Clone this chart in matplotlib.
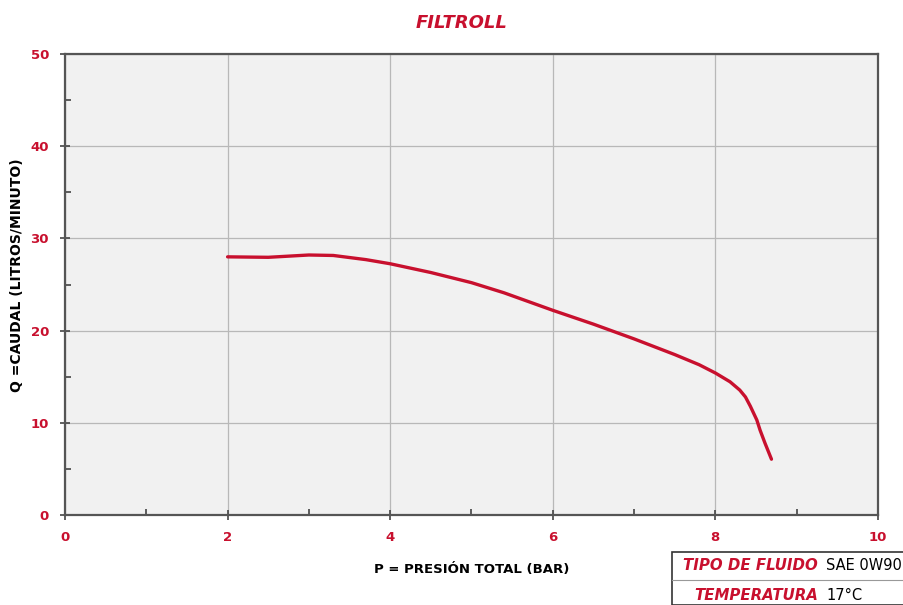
import matplotlib.pyplot as plt
from matplotlib.patches import Rectangle
from matplotlib.lines import Line2D

# curve
presion = [2.0, 2.5, 3.0, 3.3, 3.7, 4.0, 4.5, 5.0, 5.4, 6.0, 6.5, 7.0, 7.5, 7.8, 8.0, 8.18, 8.3, 8.37, 8.43, 8.51, 8.55, 8.61, 8.69]
caudal = [28.0, 27.95, 28.2, 28.15, 27.7, 27.25, 26.3, 25.2, 24.1, 22.2, 20.7, 19.1, 17.4, 16.3, 15.4, 14.45, 13.55, 12.8, 11.8, 10.3, 9.2, 7.8, 6.05]

xticks = [0, 2, 4, 6, 8, 10]
yticks = [0, 10, 20, 30, 40, 50]
titulo = "FILTROLL"
xlabel = "P = PRESIÓN TOTAL (BAR)"
ylabel = "Q =CAUDAL (LITROS/MINUTO)"
tabla = [("TIPO DE FLUIDO", "SAE 0W90"), ("TEMPERATURA", "17°C")]

rojo = "#c8102e"
fig = plt.figure(figsize=(9.04, 6.05), dpi=100)
ax = fig.add_axes([0.0719, 0.1488, 0.8993, 0.7619])
ax.set_facecolor("#f1f1f1")

ax.plot(presion, caudal, color=rojo, lw=2.4, solid_capstyle="round", solid_joinstyle="round")

ax.set_xlim(0, 10)
ax.set_ylim(0, 50)
ax.set_xticks(xticks)
ax.set_yticks(yticks)
ax.set_xticks([1, 3, 5, 7, 9], minor=True)
ax.set_yticks([5, 15, 25, 35, 45], minor=True)
ax.grid(True, which="major", color="#b8b8b8", lw=0.9)
ax.tick_params(which="major", direction="inout", length=7, width=1.2, color="#444444",
               labelcolor=rojo, labelsize=9.5, pad=8)
ax.tick_params(which="minor", direction="in", length=4, width=1.2, color="#444444")
for lb in ax.get_xticklabels() + ax.get_yticklabels():
    lb.set_fontweight("bold")
for s in ax.spines.values():
    s.set_color("#555555")
    s.set_linewidth(1.6)

ax.set_xlabel(xlabel, fontsize=9.5, fontweight="bold")
ax.xaxis.set_label_coords(0.5, -0.105)
ax.set_ylabel(ylabel, fontsize=10, fontweight="bold")
ax.yaxis.set_label_coords(-0.05, 0.52)
fig.text(0.511, 0.962, titulo, color=rojo, fontsize=13, fontweight="bold",
         style="italic", ha="center", va="center")

# small table bottom right
x0, y0 = 672 / 904, 1 - 552 / 605
fig.patches.append(Rectangle((x0, 0), 1 - x0 + 0.01, y0, transform=fig.transFigure,
                             facecolor="white", edgecolor="#333333", lw=1.2))
fig.lines.append(Line2D([x0, 1], [1 - 580 / 605] * 2, transform=fig.transFigure,
                        color="#999999", lw=0.8))
fig.text(818 / 904, 1 - 566 / 605, tabla[0][0], color=rojo, fontsize=10.8, fontweight="bold",
         style="italic", ha="right", va="center")
fig.text(826 / 904, 1 - 566 / 605, tabla[0][1], color="black", fontsize=10.5,
         ha="left", va="center")
fig.text(818 / 904, 1 - 596 / 605, tabla[1][0], color=rojo, fontsize=10.8, fontweight="bold",
         style="italic", ha="right", va="center")
fig.text(826 / 904, 1 - 596 / 605, tabla[1][1], color="black", fontsize=10.5,
         ha="left", va="center")

fig.savefig("out.png", dpi=100)
